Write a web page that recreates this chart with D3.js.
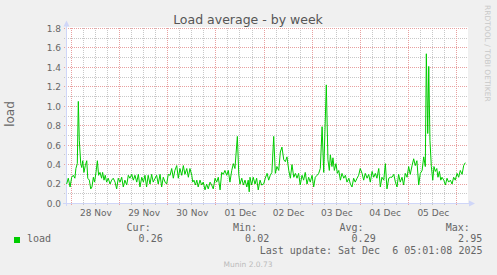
<!DOCTYPE html>
<html><head><meta charset="utf-8">
<script src="https://cdn.jsdelivr.net/npm/d3@7/dist/d3.min.js"></script>
<style>
html,body{margin:0;padding:0;background:#F0F0F0;}
svg{display:block;}
</style></head>
<body>
<script>
// ---- data (hours since 2025-11-28 00:00, load values) ----
const hours = [-2.3,-1.5,-0.6,0.2,1.0,1.8,2.3,3.0,3.5,4.0,4.7,5.2,5.7,6.3,7.0,7.7,8.2,9.0,9.7,10.3,11.0,11.6,12.3,13.0,13.6,14.3,15.1,15.6,16.3,16.9,17.6,18.4,19.3,20.1,20.9,21.8,22.6,23.4,24.3,25.1,25.9,26.7,27.6,28.4,29.2,30.1,30.9,31.7,32.6,33.4,34.2,35.1,35.9,36.7,37.5,38.3,39.2,40.0,40.8,41.7,42.5,43.3,44.2,45.0,45.8,46.7,47.5,48.3,49.2,50.0,50.8,51.6,52.5,53.3,54.1,55.0,55.8,56.6,57.5,58.3,59.1,60.0,60.5,61.1,61.8,62.5,63.2,64.1,64.9,65.7,66.6,67.4,68.2,69.1,69.9,70.7,71.6,72.4,73.2,74.1,74.9,75.7,76.5,77.4,78.2,79.0,79.9,80.7,81.5,82.0,82.7,83.4,84.0,84.9,85.7,86.5,87.4,88.1,88.6,89.0,89.8,90.6,91.5,92.3,93.1,94.0,94.8,95.8,96.6,97.5,98.3,99.1,99.9,100.8,101.6,102.4,103.3,104.1,104.9,105.8,106.6,107.4,108.3,109.1,109.9,110.8,111.6,112.4,113.2,114.0,114.9,115.7,116.5,117.4,118.2,119.0,119.9,120.7,121.5,122.4,123.2,124.0,124.9,125.7,127.0,127.8,128.5,129.0,129.8,130.3,131.0,131.8,132.5,133.2,134.0,134.8,135.7,136.5,137.3,138.2,139.0,139.8,140.6,141.4,142.3,143.1,143.9,144.8,145.6,146.4,147.3,148.1,148.9,149.8,150.6,151.4,152.2,153.1,153.9,154.7,155.6,156.4,157.2,158.1,158.9,159.7,160.6,161.4,162.2,163.0,163.8,164.7,165.5,166.3,167.2,168.0,168.8,169.7,170.5,171.3,172.1,173.0,173.8,174.7,175.5,176.3,176.8,177.5,178.0,178.6,179.3,180.0,180.6,181.3,182.0,182.6,183.3,184.0,184.6,185.5,186.3,187.1,187.9,188.8,189.6,190.4,191.2,192.1,192.9,193.7,194.6,195.4,196.2];
const load = [0.20,0.26,0.17,0.27,0.29,0.26,0.36,0.41,1.05,0.65,0.41,0.37,0.44,0.32,0.39,0.44,0.26,0.24,0.15,0.17,0.27,0.22,0.32,0.44,0.29,0.32,0.26,0.32,0.24,0.29,0.22,0.26,0.20,0.24,0.26,0.22,0.15,0.26,0.22,0.27,0.17,0.24,0.19,0.29,0.26,0.30,0.24,0.29,0.22,0.30,0.17,0.27,0.22,0.29,0.17,0.29,0.20,0.30,0.22,0.26,0.29,0.20,0.30,0.17,0.27,0.22,0.20,0.30,0.29,0.36,0.26,0.34,0.39,0.26,0.36,0.29,0.39,0.30,0.36,0.27,0.36,0.29,0.22,0.24,0.19,0.24,0.17,0.24,0.19,0.22,0.14,0.20,0.15,0.22,0.19,0.15,0.26,0.22,0.27,0.14,0.32,0.30,0.34,0.29,0.34,0.22,0.34,0.41,0.36,0.50,0.69,0.30,0.20,0.26,0.19,0.24,0.17,0.24,0.12,0.27,0.19,0.27,0.20,0.26,0.14,0.24,0.19,0.20,0.26,0.31,0.24,0.29,0.32,0.69,0.31,0.38,0.34,0.53,0.58,0.45,0.43,0.48,0.34,0.26,0.40,0.27,0.31,0.26,0.31,0.19,0.29,0.24,0.32,0.20,0.27,0.22,0.29,0.17,0.27,0.29,0.31,0.36,0.79,0.32,1.22,0.45,0.34,0.50,0.38,0.47,0.34,0.41,0.31,0.34,0.24,0.31,0.26,0.29,0.22,0.26,0.20,0.17,0.26,0.22,0.26,0.29,0.36,0.31,0.24,0.31,0.26,0.30,0.22,0.33,0.27,0.31,0.26,0.36,0.17,0.27,0.24,0.41,0.15,0.26,0.27,0.27,0.30,0.22,0.17,0.30,0.22,0.27,0.19,0.31,0.27,0.38,0.30,0.39,0.46,0.39,0.44,0.19,0.31,0.34,0.48,0.38,1.54,0.72,1.41,0.65,0.38,0.24,0.38,0.33,0.36,0.27,0.33,0.24,0.27,0.24,0.19,0.26,0.22,0.24,0.20,0.27,0.24,0.31,0.27,0.34,0.30,0.39,0.42];
const yTicks = [0,0.2,0.4,0.6,0.8,1.0,1.2,1.4,1.6,1.8];
const xTickLabels = ["28 Nov","29 Nov","30 Nov","01 Dec","02 Dec","03 Dec","04 Dec","05 Dec"];
const legendHeaders = ["Cur:","Min:","Avg:","Max:"];
const legendValues = ["0.26","0.02","0.29","2.95"];
const seriesName = "load";
const title = "Load average - by week";
const lastUpdate = "Last update: Sat Dec  6 05:01:08 2025";

// ---- drawing ----
const W = 497, H = 275;
const svg = d3.select("body").append("svg").attr("width", W).attr("height", H);
svg.append("rect").attr("width", W).attr("height", H).attr("fill", "#F0F0F0");

const base = Date.UTC(2025, 10, 28, 0, 0);
const HOUR = 3600000;
const x = d3.scaleUtc()
  .domain([new Date(Date.UTC(2025,10,27,21,52)), new Date(Date.UTC(2025,11,6,5,33))])
  .range([67, 468]);
const y = d3.scaleLinear().domain([0, 1.8]).range([203.5, 28.5]);

// canvas
svg.append("rect").attr("x", 67).attr("y", 27).attr("width", 401).attr("height", 177).attr("fill", "#FFFFFF");

const grid = svg.append("g");
// minor horizontal (every 0.1)
d3.range(1, 18).filter(i => i % 2 === 1).forEach(i => {
  const yy = Math.round(y(i / 10) - 0.5) + 0.5;
  grid.append("line").attr("x1", 64).attr("x2", 468).attr("y1", yy).attr("y2", yy)
    .attr("stroke", "#C8C8C8").attr("stroke-dasharray", "1,1");
});
// minor vertical (every 6 h)
const sixH = d3.utcHour.every(6).range(x.domain()[0], x.domain()[1]).filter(d => d.getUTCHours() !== 0);
sixH.forEach(d => {
  const xx = Math.round(x(d) - 0.5) + 0.5;
  grid.append("line").attr("x1", xx).attr("x2", xx).attr("y1", 28).attr("y2", 206)
    .attr("stroke", "#C8C8C8").attr("stroke-dasharray", "1,1");
});
// major horizontal
yTicks.forEach(v => {
  const yy = Math.round(y(v) - 0.5) + 0.5;
  grid.append("line").attr("x1", 64).attr("x2", 468).attr("y1", yy).attr("y2", yy)
    .attr("stroke", "#E8A0A0").attr("stroke-dasharray", "1,1");
});
// major vertical (midnight)
const days = d3.utcDay.range(x.domain()[0], x.domain()[1]);
days.forEach(d => {
  const xx = Math.round(x(d) - 0.5) + 0.5;
  grid.append("line").attr("x1", xx).attr("x2", xx).attr("y1", 28).attr("y2", 206)
    .attr("stroke", "#E8A0A0").attr("stroke-dasharray", "1,1");
});

// axes lines + arrows
const axisCol = "#CFD6F8";
svg.append("line").attr("x1", 66.5).attr("x2", 66.5).attr("y1", 206).attr("y2", 25).attr("stroke", axisCol);
svg.append("line").attr("x1", 63).attr("x2", 470).attr("y1", 203.5).attr("y2", 203.5).attr("stroke", axisCol);
svg.append("path").attr("d", "M63.5,26.5L69.5,26.5L66.5,20.5Z").attr("fill", axisCol);
svg.append("path").attr("d", "M469,200.5L469,206.5L475,203.5Z").attr("fill", axisCol);

// series line
const pts = hours.map((h, i) => ({ t: new Date(base + h * HOUR), v: load[i] }));
svg.append("path").datum(pts)
  .attr("fill", "none").attr("stroke", "#00CC00").attr("stroke-width", 1)
  .attr("d", d3.line().x(d => x(d.t)).y(d => y(d.v)));

// axis labels
const font = "'DejaVu Sans', Verdana, sans-serif";
const yAxis = svg.append("g").attr("transform", "translate(67,0)")
  .call(d3.axisLeft(y).tickValues(yTicks).tickFormat(d3.format(".1f")).tickSize(0).tickPadding(6));
yAxis.select(".domain").remove();
yAxis.selectAll("text").attr("font-family", font).attr("font-size", 9).attr("fill", "#666666");

const noonTicks = days.map(d => new Date(d.getTime() + 12 * HOUR)).slice(0, xTickLabels.length);
const xAxis = svg.append("g").attr("transform", "translate(0,203)")
  .call(d3.axisBottom(x).tickValues(noonTicks).tickFormat((d, i) => xTickLabels[i]).tickSize(0).tickPadding(6.5));
xAxis.select(".domain").remove();
xAxis.selectAll("text").attr("font-family", font).attr("font-size", 9).attr("fill", "#666666");

// title
svg.append("text").attr("x", 248).attr("y", 24).attr("text-anchor", "middle")
  .attr("font-family", font).attr("font-size", 12.5).attr("fill", "#555555").text(title);
// y label
svg.append("text").attr("transform", "translate(14,114) rotate(-90)").attr("text-anchor", "middle")
  .attr("font-family", font).attr("font-size", 12).attr("fill", "#666666").text(seriesName);
// watermark
svg.append("text").attr("transform", "translate(485,5) rotate(90)")
  .attr("font-family", font).attr("font-size", 7.5).attr("fill", "#C8C8C8").text("RRDTOOL / TOBI OETIKER");

// legend
const mono = "'DejaVu Sans Mono', monospace";
svg.append("rect").attr("x", 14).attr("y", 237).attr("width", 6).attr("height", 6).attr("fill", "#00CC00");
svg.append("text").attr("x", 27).attr("y", 242).attr("font-family", mono).attr("font-size", 10)
  .attr("fill", "#666666").text(seriesName);
legendHeaders.forEach((h, i) => {
  svg.append("text").attr("x", 150.7 + i * 106.4).attr("y", 231).attr("text-anchor", "end")
    .attr("font-family", mono).attr("font-size", 10).attr("fill", "#666666").text(h);
});
legendValues.forEach((v, i) => {
  svg.append("text").attr("x", 162.7 + i * 106.5).attr("y", 242).attr("text-anchor", "end")
    .attr("font-family", mono).attr("font-size", 10).attr("fill", "#666666").text(v);
});
svg.append("text").attr("x", 482.5).attr("y", 254).attr("text-anchor", "end").attr("xml:space", "preserve")
  .style("white-space", "pre")
  .attr("font-family", mono).attr("font-size", 10).attr("fill", "#666666").text(lastUpdate);
svg.append("text").attr("x", 248).attr("y", 267).attr("text-anchor", "middle")
  .attr("font-family", font).attr("font-size", 7.5).attr("fill", "#BBBBBB").text("Munin 2.0.73");
</script>
</body></html>
